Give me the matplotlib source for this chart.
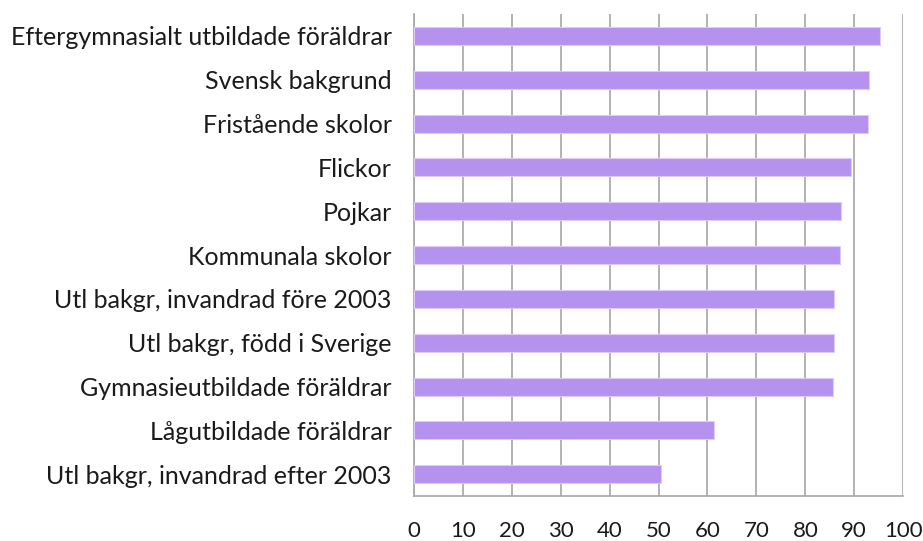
import matplotlib
matplotlib.use("Agg")
import matplotlib.pyplot as plt

# data, top to bottom
categories = [
    "Eftergymnasialt utbildade föräldrar",
    "Svensk bakgrund",
    "Fristående skolor",
    "Flickor",
    "Pojkar",
    "Kommunala skolor",
    "Utl bakgr, invandrad före 2003",
    "Utl bakgr, född i Sverige",
    "Gymnasieutbildade föräldrar",
    "Lågutbildade föräldrar",
    "Utl bakgr, invandrad efter 2003",
]
values = [95.2, 93.0, 92.8, 89.4, 87.3, 87.1, 85.9, 85.9, 85.7, 61.3, 50.4]
xticks = list(range(0, 101, 10))

plt.rcParams["font.family"] = ["Lato", "DejaVu Sans"]

fig = plt.figure(figsize=(9.23, 5.41), dpi=100)
ax = fig.add_axes([0.4485, 0.083, 0.53, 0.891])

pos = list(range(len(categories)))[::-1]
ax.barh(pos, values, height=0.41, color="#B592EE", edgecolor="#DCCBF8", linewidth=0.8, zorder=3)

ax.set_xlim(0, 100)
ax.set_ylim(-0.5, len(categories) - 0.5)
ax.set_xticks(xticks)
ax.set_yticks(pos)
ax.set_yticklabels(categories)
ax.grid(axis="x", color="#A6A6A6", linewidth=1.2, zorder=0)
ax.grid(axis="y", visible=False)

for s in ["top", "right"]:
    ax.spines[s].set_visible(False)
for s in ["left", "bottom"]:
    ax.spines[s].set_color("#A6A6A6")
    ax.spines[s].set_linewidth(1.2)

ax.tick_params(axis="y", length=0, pad=16, labelsize=18, labelcolor="#1a1a1a")
ax.tick_params(axis="x", length=0, pad=18, labelsize=16, labelcolor="#1a1a1a")

fig.savefig("out.png", dpi=100)
